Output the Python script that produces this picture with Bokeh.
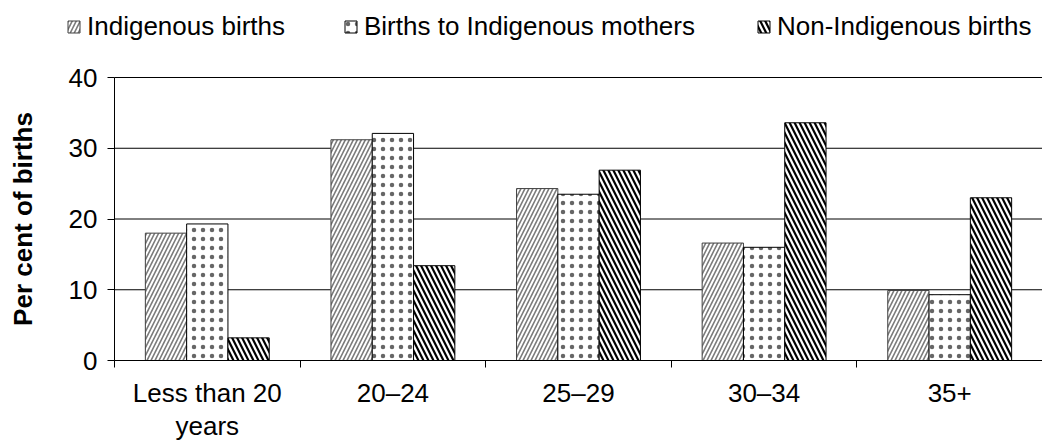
from bokeh.plotting import figure
from bokeh.models import Range1d, FixedTicker, Legend, LegendItem, ColumnDataSource
from bokeh.transform import dodge
from bokeh.embed import file_html
from bokeh.resources import INLINE

categories = ["Less than 20\nyears", "20–24", "25–29", "30–34", "35+"]
indigenous = [18.0, 31.2, 24.3, 16.6, 9.9]
mothers = [19.3, 32.1, 23.5, 16.0, 9.3]
non_indigenous = [3.2, 13.4, 26.9, 33.6, 23.0]
series_names = ["Indigenous births", "Births to Indigenous mothers", "Non-Indigenous births"]
y_ticks = [0, 10, 20, 30, 40]

n = len(categories)
centers = [i + 0.5 for i in range(n)]
bounds = list(range(n + 1))
src = ColumnDataSource(dict(x=centers, ind=indigenous, mot=mothers, non=non_indigenous))

FONT = "Liberation Sans"
FS = "26px"

# layout (pixels): the frame fills the whole figure, axes sit inside it
W, H = 1042, 443
AXIS_X = 114      # pixel column of the value axis
ZERO_Y = 360      # pixel row of the category axis (value 0)
TOP_Y = 77        # pixel row of the top tick
ymax = max(y_ticks)
ppx = (W - AXIS_X) / n
ppy = (ZERO_Y - TOP_Y) / ymax

p = figure(width=W, height=H,
           x_range=Range1d(-AXIS_X / ppx, n),
           y_range=Range1d(-(H - ZERO_Y) / ppy, ZERO_Y / ppy),
           output_backend="svg", toolbar_location=None,
           min_border_left=0, min_border_right=0, min_border_top=0, min_border_bottom=0)
p.outline_line_color = None
p.grid.visible = False

# horizontal gridlines between the axis and the right edge
p.segment(x0=[0] * len(y_ticks), x1=[n] * len(y_ticks), y0=y_ticks, y1=y_ticks,
          line_color="black", line_width=1, level="underlay")

styles = [
    dict(fill_color="white", line_color="#404040", line_width=1,
         hatch_pattern="/", hatch_color="#7a7a7a", hatch_scale=8, hatch_weight=1.6),
    dict(fill_color="white", line_color="black", line_width=1,
         hatch_pattern=".", hatch_color="#666666", hatch_scale=9, hatch_weight=0.8),
    dict(fill_color="white", line_color="black", line_width=1,
         hatch_pattern="\\", hatch_color="black", hatch_scale=10, hatch_weight=2.2),
]

bw = 0.2225
cols = ["ind", "mot", "non"]
rends = []
for off, col, st in zip([-bw, 0, bw], cols, styles):
    rends.append(p.vbar(x=dodge('x', off, range=p.x_range), top=col, width=bw, source=src, **st))

for r, name, xloc in zip(rends, series_names, [66, 343, 756]):
    lg = Legend(items=[LegendItem(label=name, renderers=[r])], location=(xloc, H - 42),
                orientation="horizontal", border_line_color=None, background_fill_alpha=0,
                padding=0, margin=0, glyph_width=15, glyph_height=15, label_standoff=6,
                label_text_font=FONT, label_text_font_size=FS, label_text_color="black")
    p.add_layout(lg, "center")

xa = p.xaxis[0]
xa.fixed_location = 0
xa.bounds = (0, n)
xa.ticker = FixedTicker(ticks=centers, minor_ticks=bounds)
xa.major_label_overrides = {c: lab for c, lab in zip(centers, categories)}
xa.major_tick_in = 0
xa.major_tick_out = 0
xa.minor_tick_in = 0
xa.minor_tick_out = 7
xa.minor_tick_line_color = "black"
xa.axis_line_color = "black"
xa.major_label_text_font = FONT
xa.major_label_text_font_size = FS
xa.major_label_text_color = "black"
xa.major_label_text_line_height = 1.1
xa.major_label_standoff = 10

ya = p.yaxis[0]
ya.fixed_location = 0
ya.bounds = (0, ymax)
ya.ticker = FixedTicker(ticks=y_ticks)
ya.major_tick_in = 0
ya.major_tick_out = 7
ya.minor_tick_line_color = None
ya.axis_line_color = "black"
ya.major_tick_line_color = "black"
ya.major_label_text_font = FONT
ya.major_label_text_font_size = FS
ya.major_label_text_color = "black"
ya.major_label_standoff = 10
ya.axis_label = "Per cent of births"
ya.axis_label_text_font = FONT
ya.axis_label_text_font_style = "bold"
ya.axis_label_text_font_size = "26px"
ya.axis_label_text_color = "black"
ya.axis_label_standoff = 28

open("out.html", "w").write(file_html(p, INLINE))
